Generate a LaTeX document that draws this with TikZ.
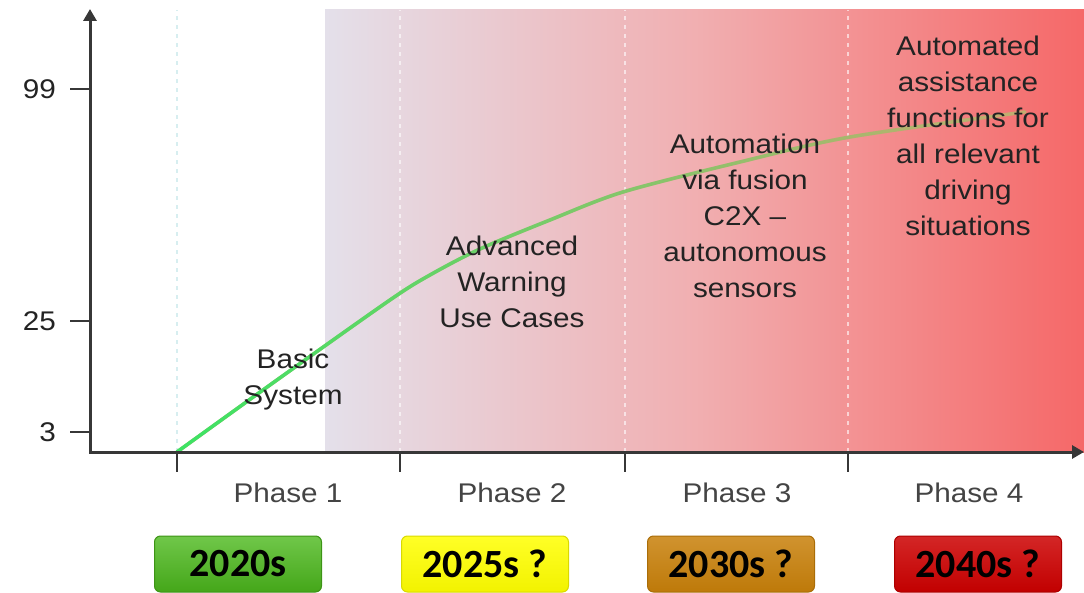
\documentclass[tikz,border=0pt]{standalone}
\usepackage{fontspec}
\setmainfont{Liberation Sans}[FakeStretch=1.1]
\newfontfamily\yearfont{Carlito}
\usetikzlibrary{arrows.meta,positioning,fadings}

\definecolor{axisgray}{RGB}{55,55,55}
\definecolor{textgray}{RGB}{35,35,35}
\definecolor{bglavender}{RGB}{228,224,234}
\definecolor{bgpink}{RGB}{241,174,176}
\definecolor{bgred}{RGB}{245,104,104}
\definecolor{curvegreen}{RGB}{60,228,100}
\definecolor{curvekhaki}{RGB}{196,172,112}
\definecolor{gridcyan}{RGB}{215,238,240}
\definecolor{yeargreen}{RGB}{76,185,28}
\definecolor{yearyellow}{RGB}{255,255,0}
\definecolor{yearbrown}{RGB}{200,128,10}
\definecolor{yearred}{RGB}{204,0,0}

\begin{document}
\begin{tikzpicture}[x=1pt,y=-1pt,
  axis/.style={axisgray,line width=3pt,{Triangle[length=12pt,width=13pt]}-{Triangle[length=12pt,width=13pt]}},
  tickmark/.style={axisgray,line width=2.5pt},
  phaseline/.style={white,line width=2pt,dash pattern=on 4pt off 5pt,opacity=.6},
  ticklabel/.style={text=textgray,font=\fontsize{27}{32}\selectfont,inner sep=0pt},
  phaselabel/.style={text=textgray!85,font=\fontsize{27}{32}\selectfont},
  stagetext/.style={text=textgray,align=center,font=\fontsize{27}{36}\selectfont},
  yearbox/.style={rounded corners=6pt,minimum width=167pt,minimum height=56pt,line width=1pt,
    font=\yearfont\bfseries\fontsize{40}{40}\selectfont,text=black}]

\useasboundingbox (0,0) rectangle (1084,593);

% background from lavender to red
\fill [left color=bglavender,right color=bgpink] (325,10) rectangle (701,452);
\fill [left color=bgpink,right color=bgred] (700,10) rectangle (1084,452);

\coordinate (o) at (90,452);
\coordinate (ytop) at (90,9);
\coordinate (xend) at (1084,452);
\foreach \x/\n in {177/1,400/2,625/3,848/4}
  \coordinate (p\n) at (\x,452);

% phase borders
\draw [phaseline,gridcyan,opacity=1] (p1) -- ++(0,-442);
\foreach \n in {2,3,4}
  \draw [phaseline] (p\n) -- ++(0,-442);

% growth curve
\def\growth{(177,452) (277,380) (390,300) (430,275) (480,249) (550,220) (623,192) (740,162) (850,137) (1025,112)}
\draw [curvekhaki,line width=3.5pt,line cap=round] plot[smooth] coordinates {\growth};
\draw [curvegreen,line width=3.5pt,line cap=round,path fading=east] plot[smooth] coordinates {\growth};

% axes
\draw [axis] (ytop) -- (o) -- (xend);

\foreach \y/\v in {89/99,321/25,432/3} {
  \coordinate (yt\v) at (90,\y);
  \draw [tickmark] (yt\v) -- ++(-20,0) coordinate (ys\v);
  \node [ticklabel,left=14pt of ys\v] (yl\v) {\v};
}
\foreach \n in {1,...,4}
  \draw [tickmark] (p\n) -- ++(0,20);

\foreach \x/\n in {288/1,512/2,737/3,969/4}
  \node [phaselabel] (ph\n) at (\x,493) {Phase \n};

\node [stagetext] (basic) at (293,380) {Basic\\System};
\node [stagetext] (warning) at (512,282) {Advanced\\Warning\\Use Cases};
\node [stagetext] (fusion) at (745,216) {Automation\\via fusion\\C2X –\\autonomous\\sensors};
\node [stagetext] (assist) at (968,136) {Automated\\assistance\\functions for\\all relevant\\driving\\situations};

% decades
\node [yearbox,top color=yeargreen!80!white,bottom color=yeargreen!90!black,draw=yeargreen!80!black] (y2020) at (238,564) {2020s};
\node [yearbox,top color=yearyellow!85!white,bottom color=yearyellow!95!black,draw=yearyellow!85!black] (y2025) at (485,564) {2025s ?};
\node [yearbox,top color=yearbrown!85!white,bottom color=yearbrown!95!black,draw=yearbrown!85!black] (y2030) at (731,564) {2030s ?};
\node [yearbox,top color=yearred!85!white,bottom color=yearred!95!black,draw=yearred!85!black] (y2040) at (978,564) {2040s ?};

\end{tikzpicture}
\end{document}
